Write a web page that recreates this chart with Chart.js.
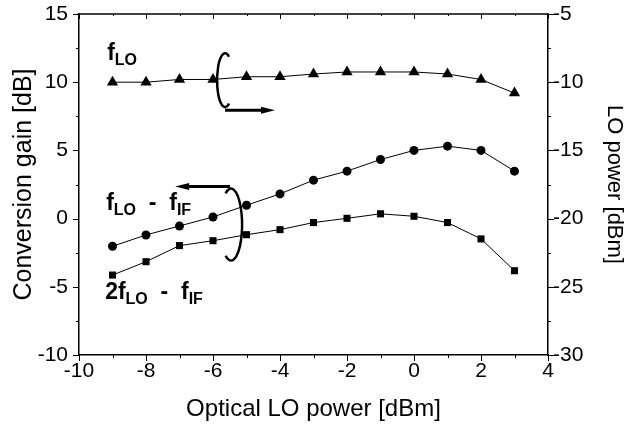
<!DOCTYPE html>
<html>
<head>
<meta charset="utf-8">
<script src="https://cdn.jsdelivr.net/npm/chart.js@4/dist/chart.umd.min.js"></script>
<style>
  body { margin: 0; background: #fff; }
  #wrap { width: 633px; height: 427px; }
</style>
</head>
<body>
<div id="wrap"><canvas id="chart"></canvas></div>
<script>
// optical LO power [dBm]
const xValues = [-9, -8, -7, -6, -5, -4, -3, -2, -1, 0, 1, 2, 3];
// f_LO: LO power [dBm] (right axis)
const loPower = [-10.0, -10.0, -9.8, -9.8, -9.6, -9.6, -9.4, -9.25, -9.25, -9.25, -9.4, -9.8, -10.8];
// f_LO - f_IF: conversion gain [dB]
const gainLoIf = [-2.03, -1.2, -0.54, 0.12, 0.98, 1.81, 2.82, 3.48, 4.33, 5.0, 5.31, 5.0, 3.48];
// 2f_LO - f_IF: conversion gain [dB]
const gain2LoIf = [-4.14, -3.16, -1.98, -1.62, -1.18, -0.81, -0.29, 0.02, 0.35, 0.17, -0.29, -1.49, -3.82];

const xLabels = [-10, -8, -6, -4, -2, 0, 2, 4];
const yLabels = [-10, -5, 0, 5, 10, 15];
const y2Labels = [-30, -25, -20, -15, -10, -5];

const FONT = '"Liberation Sans", Arial, sans-serif';

function pts(arr) { return xValues.map((x, i) => ({ x: x, y: arr[i] })); }

function ds(label, data, style, radius, axis) {
  return {
    label: label, data: pts(data), yAxisID: axis,
    borderColor: '#000', backgroundColor: '#000', borderWidth: 1,
    pointStyle: style, pointRadius: radius, pointBorderWidth: 0,
    pointBackgroundColor: '#000', tension: 0
  };
}

function axis(pos, min, max, step, labels, title, titleSize, tickPad, padTitle, size) {
  const vertical = pos !== 'bottom';
  return {
    type: 'linear', position: pos, min: min, max: max,
    grid: { drawOnChartArea: false, drawTicks: false, display: true },
    border: { display: true, color: '#000', width: 1.5 },
    ticks: {
      stepSize: step, color: '#000', padding: tickPad,
      font: { family: FONT, size: 21 },
      autoSkip: false, maxRotation: 0,
      callback: (v) => labels.includes(v) ? String(v) : ''
    },
    title: { display: true, text: title, color: '#000', font: { family: FONT, size: titleSize }, padding: padTitle },
    // fixed axis box, no extra padding for the end labels
    afterFit: s => {
      if (vertical) s.width = size; else s.height = size;
      s.paddingTop = 0; s.paddingBottom = 0; s.paddingLeft = 0; s.paddingRight = 0;
    }
  };
}

// outer tick marks (major long, minor short) and the top frame line
const frameTicks = {
  id: 'frameTicks',
  afterDraw(chart) {
    const ctx = chart.ctx, a = chart.chartArea;
    ctx.save();
    ctx.strokeStyle = '#000';
    ctx.lineWidth = 1.5;
    ctx.beginPath();
    ctx.moveTo(a.left, a.top); ctx.lineTo(a.right, a.top);
    ctx.stroke();
    ctx.lineWidth = 1;
    const sx = chart.scales.x;
    sx.ticks.forEach(t => {
      const p = Math.round(sx.getPixelForValue(t.value)) + 0.5;
      const len = xLabels.includes(t.value) ? 6 : 3;
      ctx.beginPath();
      ctx.moveTo(p, a.bottom); ctx.lineTo(p, a.bottom + len);
      ctx.moveTo(p, a.top); ctx.lineTo(p, a.top + len - 1);
      ctx.stroke();
    });
    [['y', yLabels, -1, a.left], ['y2', y2Labels, 1, a.right]].forEach(([id, labs, dir, x0]) => {
      const s = chart.scales[id];
      s.ticks.forEach(t => {
        const p = Math.round(s.getPixelForValue(t.value)) + 0.5;
        const len = labs.includes(t.value) ? 6 : 3;
        ctx.beginPath();
        ctx.moveTo(x0, p); ctx.lineTo(x0 + dir * len, p);
        ctx.stroke();
      });
    });
    ctx.restore();
  }
};

// series labels, ellipses and arrows pointing to the axis of each series
const notes = {
  id: 'notes',
  afterDatasetsDraw(chart) {
    const ctx = chart.ctx, sx = chart.scales.x, sy = chart.scales.y;
    const X = v => sx.getPixelForValue(v), Y = v => sy.getPixelForValue(v);
    ctx.save();
    ctx.fillStyle = '#000';
    ctx.strokeStyle = '#000';
    ctx.textBaseline = 'alphabetic';
    function label(parts, x, y) {
      let cx = x;
      parts.forEach(([txt, sub]) => {
        ctx.font = 'bold ' + (sub ? 16 : 23) + 'px ' + FONT;
        ctx.fillText(txt, cx, sub ? y + 5 : y);
        cx += ctx.measureText(txt).width;
      });
    }
    label([['f', 0], ['LO', 1]], X(-9.16), Y(11.6));
    label([['f', 0], ['LO', 1], ['  -  ', 0], ['f', 0], ['IF', 1]], X(-9.19), Y(0.65));
    label([['2f', 0], ['LO', 1], ['  -  ', 0], ['f', 0], ['IF', 1]], X(-9.22), Y(-5.9));

    ctx.lineWidth = 2.5;
    ctx.beginPath();
    ctx.ellipse(X(-5.64), Y(10.15), 8, 27, 0, -Math.PI / 3, Math.PI / 3, true);
    ctx.stroke();
    ctx.beginPath();
    ctx.ellipse(X(-5.46), Y(-0.44), 11, 36, 0, -2 * Math.PI / 3, 2 * Math.PI / 3, false);
    ctx.stroke();

    function arrow(x1, x2, yv) {
      const y = Y(yv), p1 = X(x1), p2 = X(x2), d = Math.sign(p2 - p1);
      ctx.lineWidth = 3;
      ctx.beginPath();
      ctx.moveTo(p1, y); ctx.lineTo(p2 - d * 10, y);
      ctx.stroke();
      ctx.beginPath();
      ctx.moveTo(p2, y); ctx.lineTo(p2 - d * 14, y - 3.5); ctx.lineTo(p2 - d * 14, y + 3.5);
      ctx.closePath();
      ctx.fill();
    }
    arrow(-5.64, -4.15, 7.94);
    arrow(-5.49, -7.13, 2.35);
    ctx.restore();
  }
};

new Chart(document.getElementById('chart'), {
  type: 'line',
  data: {
    datasets: [
      ds('f_LO', loPower, 'triangle', 6.5, 'y2'),
      ds('f_LO - f_IF', gainLoIf, 'circle', 4.5, 'y'),
      ds('2f_LO - f_IF', gain2LoIf, 'rect', 5, 'y')
    ]
  },
  options: {
    responsive: true, maintainAspectRatio: false, animation: false,
    layout: { padding: { top: 14, left: 0, right: 0, bottom: 0 } },
    plugins: { legend: { display: false }, tooltip: { enabled: false } },
    scales: {
      x: axis('bottom', -10, 4, 1, xLabels, 'Optical LO power [dBm]', 24, 4, { top: 4, bottom: 3 }, 72),
      y: axis('left', -10, 15, 2.5, yLabels, 'Conversion gain [dB]', 25, 11, { top: 9, bottom: 4 }, 79),
      y2: axis('right', -30, -5, 2.5, y2Labels, 'LO power [dBm]', 22, 5, { top: 6, bottom: 4 }, 85)
    }
  },
  plugins: [frameTicks, notes]
});
</script>
</body>
</html>
